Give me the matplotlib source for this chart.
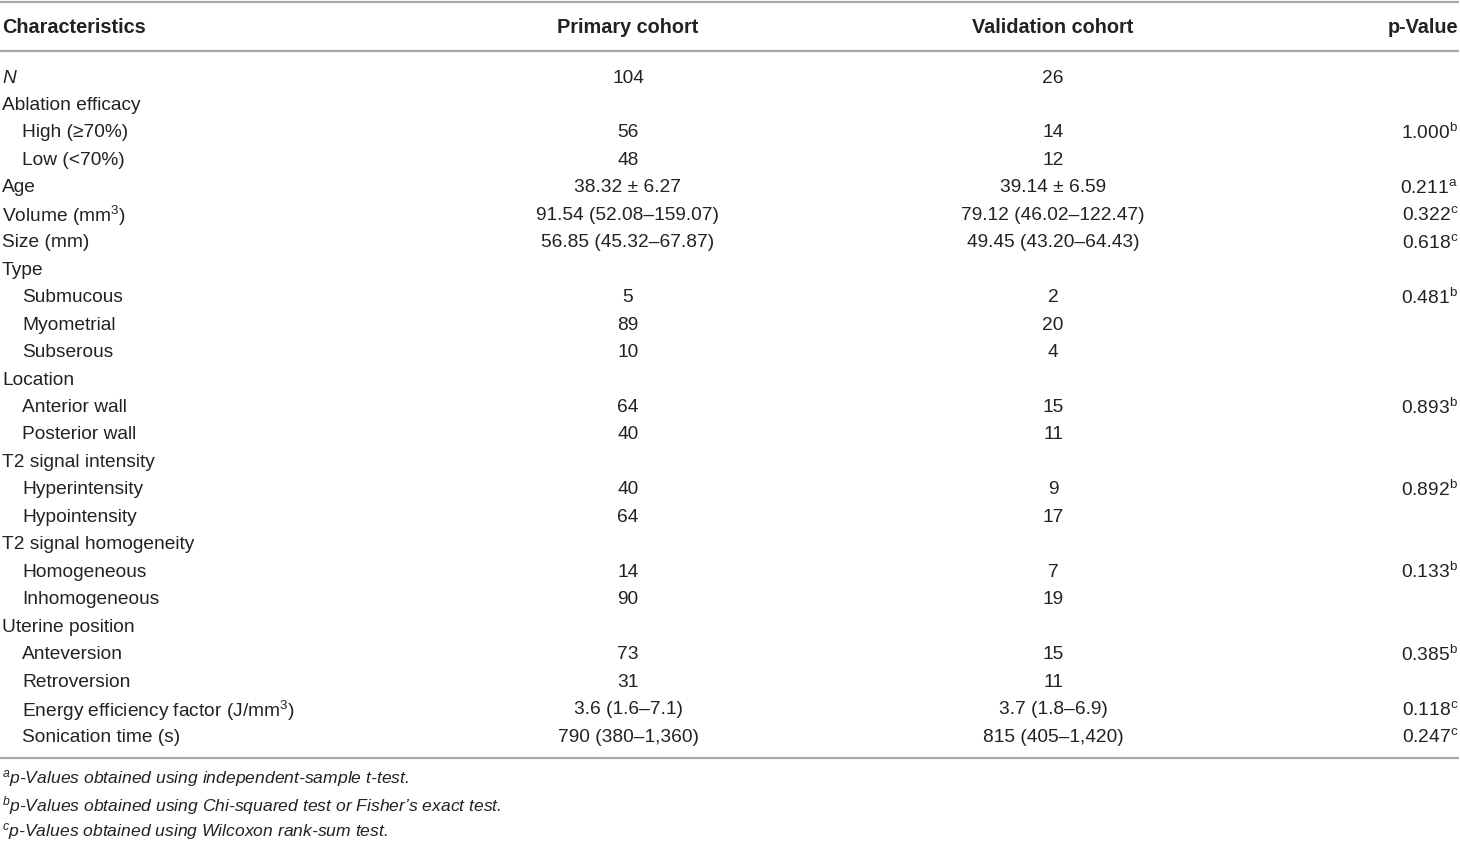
import matplotlib
matplotlib.use("Agg")
import matplotlib.pyplot as plt

plt.rcParams['font.family'] = ['Liberation Sans', 'DejaVu Sans']
plt.rcParams['mathtext.fontset'] = 'custom'
plt.rcParams['mathtext.rm'] = 'Liberation Sans'
plt.rcParams['mathtext.it'] = 'Liberation Sans:italic'
plt.rcParams['mathtext.bf'] = 'Liberation Sans:bold'

headers = ["Characteristics", "Primary cohort", "Validation cohort", "p-Value"]

labels = ["N", "Ablation efficacy", "High (≥70%)", "Low (<70%)", "Age",
          "Volume (mm$^3$)", "Size (mm)", "Type", "Submucous", "Myometrial",
          "Subserous", "Location", "Anterior wall", "Posterior wall",
          "T2 signal intensity", "Hyperintensity", "Hypointensity",
          "T2 signal homogeneity", "Homogeneous", "Inhomogeneous",
          "Uterine position", "Anteversion", "Retroversion",
          "Energy efficiency factor (J/mm$^3$)", "Sonication time (s)"]
indent = [0, 0, 1, 1, 0, 0, 0, 0, 1, 1, 1, 0, 1, 1, 0, 1, 1, 0, 1, 1, 0, 1, 1, 1, 1]
primary = ["104", "", "56", "48", "38.32 ± 6.27", "91.54 (52.08–159.07)",
           "56.85 (45.32–67.87)", "", "5", "89", "10", "", "64", "40", "",
           "40", "64", "", "14", "90", "", "73", "31", "3.6 (1.6–7.1)",
           "790 (380–1,360)"]
validation = ["26", "", "14", "12", "39.14 ± 6.59", "79.12 (46.02–122.47)",
              "49.45 (43.20–64.43)", "", "2", "20", "4", "", "15", "11", "",
              "9", "17", "", "7", "19", "", "15", "11", "3.7 (1.8–6.9)",
              "815 (405–1,420)"]
pvalue = ["", "", "1.000", "", "0.211", "0.322", "0.618", "", "0.481", "", "",
          "", "0.893", "", "", "0.892", "", "", "0.133", "", "", "0.385", "",
          "0.118", "0.247"]
psup = ["", "", "b", "", "a", "c", "c", "", "b", "", "", "", "b", "", "",
        "b", "", "", "b", "", "", "b", "", "c", "c"]
footnotes = [("a", "p-Values obtained using independent-sample t-test."),
             ("b", "p-Values obtained using Chi-squared test or Fisher’s exact test."),
             ("c", "p-Values obtained using Wilcoxon rank-sum test.")]

W, H = 1460, 841
fig = plt.figure(figsize=(W / 100, H / 100), dpi=100)
ax = fig.add_axes([0, 0, 1, 1])
ax.set_xlim(0, W)
ax.set_ylim(H, 0)
ax.axis('off')

tc = '#222222'
fs = 13.8
hfs = 14.3
lc = '#a8a8a8'
for yl in (1.5, 50.5, 758):
    ax.plot([0, 1459], [yl, yl], color=lc, lw=1.6, solid_capstyle='butt')

x_lab, x_ind, x_p, x_v, x_pv = 2, 22, 628, 1053, 1458
hy = 27
ax.text(x_lab, hy, headers[0], ha='left', va='center', fontsize=hfs, fontweight='bold', color=tc)
ax.text(x_p, hy, headers[1], ha='center', va='center', fontsize=hfs, fontweight='bold', color=tc)
ax.text(x_v, hy, headers[2], ha='center', va='center', fontsize=hfs, fontweight='bold', color=tc)
ax.text(x_pv, hy, headers[3], ha='right', va='center', fontsize=hfs, fontweight='bold', color=tc)

y0, dy = 76, 27.46
for i, lab in enumerate(labels):
    y = y0 + i * dy
    x = x_ind if indent[i] else x_lab
    style = 'italic' if lab == "N" else 'normal'
    ax.text(x, y, lab, ha='left', va='center_baseline', fontsize=fs, color=tc, style=style)
    if primary[i]:
        ax.text(x_p, y, primary[i], ha='center', va='center_baseline', fontsize=fs, color=tc)
    if validation[i]:
        ax.text(x_v, y, validation[i], ha='center', va='center_baseline', fontsize=fs, color=tc)
    if pvalue[i]:
        s = pvalue[i] + (r"$^{\mathrm{%s}}$" % psup[i] if psup[i] else "")
        ax.text(x_pv, y, s, ha='right', va='center_baseline', fontsize=fs, color=tc)

fy0, fdy = 776, 26.3
for j, (sup, txt) in enumerate(footnotes):
    ax.text(x_lab, fy0 + j * fdy, r"$^{%s}$" % sup + txt, ha='left', va='center_baseline',
            fontsize=12.6, color=tc, style='italic')

fig.savefig("out.png", dpi=100, facecolor='white')
